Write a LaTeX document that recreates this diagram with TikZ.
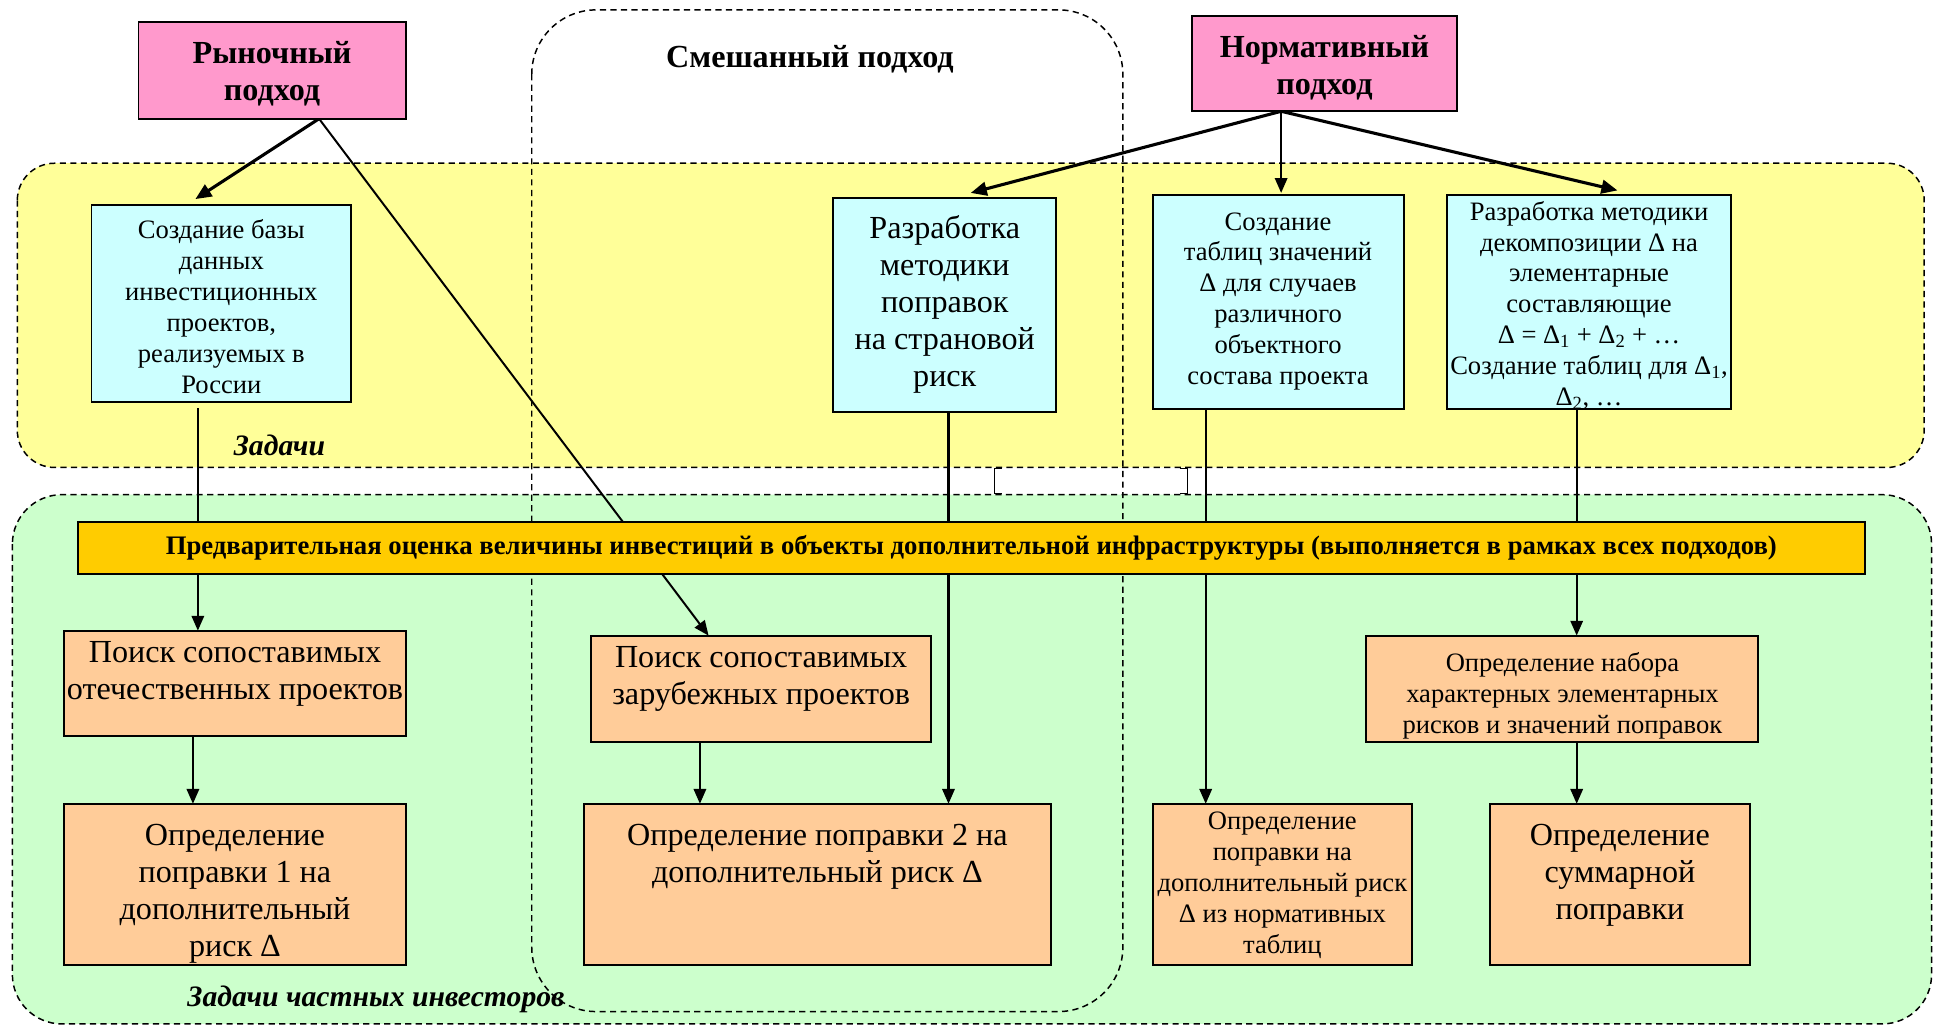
\documentclass[tikz,border=0pt]{standalone}
\usepackage{fontspec}
\setmainfont{Liberation Serif}
\usetikzlibrary{arrows.meta}
\definecolor{pinkc}{HTML}{FF99CC}
\definecolor{cyanc}{HTML}{CCFFFF}
\definecolor{yellowc}{HTML}{FFFF99}
\definecolor{greenc}{HTML}{CCFFCC}
\definecolor{orangec}{HTML}{FFCC99}
\definecolor{barc}{HTML}{FFCC00}
\newcommand\boxtxt[5]{\parbox[c][#2pt][t]{#1pt}{\vspace*{#3pt}\makebox[#1pt]{#4\begin{tabular}[t]{@{}c@{}}#5\end{tabular}}}}
\newcommand\fsm{\fontsize{21.5}{25}\selectfont}
\newcommand\flg{\fontsize{26}{30}\selectfont}
\newcommand\fbd{\fontsize{26}{30}\selectfont\bfseries}
\pgfdeclarelayer{back}
\pgfdeclarelayer{mid}
\pgfsetlayers{back,mid,main}
\begin{document}
\begin{tikzpicture}[x=1pt,y=-1pt,
  region/.style={draw, line width=1.2pt, dash pattern=on 5pt off 3.5pt},
  bx/.style={draw, line width=1.6pt, inner sep=0pt, outer sep=0pt, anchor=north west},
  barbox/.style={draw, line width=1.6pt, fill=barc, inner sep=0pt, minimum width=1445pt, minimum height=42pt, font=\fontsize{21.6}{24}\selectfont\bfseries},
  arr/.style={line width=1.7pt, -{Triangle[length=12pt,width=10pt]}},
  arrb/.style={line width=2.5pt, -{Triangle[length=13pt,width=11pt]}},
  lbl/.style={font=\fontsize{24}{28}\selectfont\bfseries\itshape}
]
\useasboundingbox (0,0) rectangle (1568,830);

% nodes
\node[bx,fill=pinkc] (ryn) at (112,18) {\boxtxt{216}{78}{12.5}{\fbd}{Рыночный\\подход}};
\node[bx,fill=pinkc] (norm) at (964,13) {\boxtxt{214}{77}{12.5}{\fbd}{Нормативный\\подход}};
\node[font=\fontsize{26}{30}\selectfont\bfseries] (mixlbl) at (655,48) {Смешанный подход};

\node[bx,fill=cyanc] (db) at (74,166) {\boxtxt{210}{159}{9.5}{\fsm}{Создание базы\\данных\\инвестиционных\\проектов,\\реализуемых в\\России}};
\node[bx,fill=cyanc] (razr) at (674,160) {\boxtxt{180}{173}{11.5}{\flg}{Разработка\\методики\\поправок\\на страновой\\риск}};
\node[bx,fill=cyanc] (tab) at (932,158) {\boxtxt{203}{173}{10.5}{\fsm}{Создание\\таблиц значений\\Δ для случаев\\различного\\объектного\\состава проекта}};
\node[bx,fill=cyanc] (dec) at (1170,158) {\boxtxt{230}{173}{2.5}{\fsm}{Разработка методики\\декомпозиции Δ на\\элементарные\\составляющие\\Δ = Δ\textsubscript{1} + Δ\textsubscript{2} + …\\Создание таблиц для Δ\textsubscript{1},\\Δ\textsubscript{2}, …}};
\node[lbl] (tasks) at (226,360) {Задачи};

\node[barbox] (bar) at (785.5,443) {Предварительная оценка величины инвестиций в объекты дополнительной инфраструктуры (выполняется в рамках всех подходов)};

\node[bx,fill=orangec] (otech) at (52,510) {\boxtxt{276}{85}{4.5}{\flg}{Поиск сопоставимых\\отечественных проектов}};
\node[bx,fill=orangec] (opr1) at (52,650) {\boxtxt{276}{130}{12.5}{\flg}{Определение\\поправки 1 на\\дополнительный\\риск Δ}};
\node[bx,fill=orangec] (zar) at (478,514) {\boxtxt{275}{86}{4.5}{\flg}{Поиск сопоставимых\\зарубежных проектов}};
\node[bx,fill=orangec] (opr2) at (472,650) {\boxtxt{378}{130}{12.5}{\flg}{Определение поправки 2 на\\дополнительный риск Δ}};
\node[bx,fill=orangec] (oprn) at (932,650) {\boxtxt{210}{130}{3.5}{\fsm}{Определение\\поправки на\\дополнительный риск\\Δ из нормативных\\таблиц}};
\node[bx,fill=orangec] (nabor) at (1105,514) {\boxtxt{317}{86}{11.5}{\fsm}{Определение набора\\характерных элементарных\\рисков и значений поправок}};
\node[bx,fill=orangec] (summ) at (1205,650) {\boxtxt{210}{130}{12.5}{\flg}{Определение\\суммарной\\поправки}};
\node[lbl] (privlbl) at (304,808) {Задачи частных инвесторов};

% regions
\begin{pgfonlayer}{back}
\draw[region, fill=yellowc, rounded corners=30pt] (14,132) rectangle (1556,378);
\draw[region, fill=greenc, rounded corners=40pt] (10,400) rectangle (1562,828);
\draw[line width=0.9pt] (810,379) -- (804,379) -- (804,399) -- (810,399);
\draw[line width=0.9pt] (954,379) -- (960,379) -- (960,399) -- (954,399);
\draw[region, rounded corners=52pt] (430,8) rectangle (908,818);
\end{pgfonlayer}

% connectors
\begin{pgfonlayer}{mid}
\draw[arrb] ([xshift=38pt]ryn.south) -- ([xshift=-21pt,yshift=5pt]db.north);
\draw[arr, line width=1.6pt] ([xshift=38pt]ryn.south) -- ([xshift=-42.5pt]zar.north);
\draw[arrb] ([xshift=-35pt]norm.south) -- ([xshift=21pt,yshift=4pt]razr.north);
\draw[arr] ([xshift=-35pt]norm.south) -- ([xshift=2.5pt,yshift=2pt]tab.north);
\draw[arrb] ([xshift=-35pt]norm.south) -- ([xshift=23pt,yshift=4pt]dec.north);
\draw[arr] ([xshift=-19pt,yshift=-5pt]db.south) -- ([xshift=-30pt]otech.north);
\draw[arr] ([xshift=3pt]razr.south) -- ([xshift=106pt]opr2.north);
\draw[arr] ([xshift=-58.5pt]tab.south) -- ([xshift=-62pt]oprn.north);
\draw[arr] ([xshift=-10pt]dec.south) -- ([xshift=11.5pt]nabor.north);
\draw[arr] ([xshift=-34pt]otech.south) -- ([xshift=-34pt]opr1.north);
\draw[arr] ([xshift=-49.5pt]zar.south) -- ([xshift=-95pt]opr2.north);
\draw[arr] ([xshift=11.5pt]nabor.south) -- ([xshift=-35pt]summ.north);
\end{pgfonlayer}
\end{tikzpicture}
\end{document}
